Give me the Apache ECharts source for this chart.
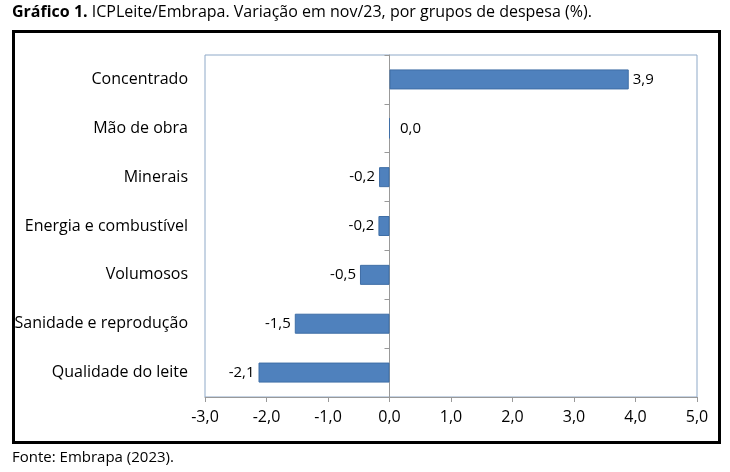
<!DOCTYPE html>
<html>
<head>
<meta charset="utf-8">
<script src="https://cdn.jsdelivr.net/npm/echarts@6/dist/echarts.min.js"></script>
<style>html,body{margin:0;padding:0;background:#fff;}#c{width:730px;height:472px;}</style>
</head>
<body>
<div id="c"></div>
<script>
const categories = ["Concentrado", "Mão de obra", "Minerais", "Energia e combustível", "Volumosos", "Sanidade e reprodução", "Qualidade do leite"];
const values = [3.89, 0.0, -0.17, -0.18, -0.48, -1.54, -2.13];
const xTicks = [-3, -2, -1, 0, 1, 2, 3, 4, 5];
const titleBold = "Gráfico 1.";
const titleRest = " ICPLeite/Embrapa. Variação em nov/23, por grupos de despesa (%).";
const source = "Fonte: Embrapa (2023).";

const FONT = "Open Sans";
const fmt = v => v.toFixed(1).replace('.', ',');

const chart = echarts.init(document.getElementById('c'));
const gridLeft = 205, gridRight = 33, gridTop = 55, gridBottom = 75;
const plotW = 730 - gridLeft - gridRight;
const zeroOffset = -plotW * (0 - xTicks[0]) / (xTicks[xTicks.length - 1] - xTicks[0]);

chart.setOption({
  animation: false,
  textStyle: { fontFamily: FONT },
  graphic: [
    { type: 'rect', shape: { x: 13.5, y: 31.5, width: 706, height: 411 }, style: { fill: 'none', stroke: '#000', lineWidth: 3 } },
    { type: 'text', left: 12, top: 4, style: { text: '{b|' + titleBold + '}{n|' + titleRest + '}', rich: { b: { fontWeight: 'bold', fontSize: 16, fontFamily: FONT, fill: '#000' }, n: { fontSize: 16, fontFamily: FONT, fill: '#000' } } } },
    { type: 'text', left: 12, top: 450, style: { text: source, fontSize: 15, fontFamily: FONT, fill: '#000' } }
  ],
  grid: { left: gridLeft, right: gridRight, top: gridTop, bottom: gridBottom, show: true, borderColor: '#8EA9C8', borderWidth: 1, backgroundColor: '#fff' },
  xAxis: {
    type: 'value', min: xTicks[0], max: xTicks[xTicks.length - 1], interval: 1,
    axisLine: { show: true, onZero: false, lineStyle: { color: '#999', width: 1 } },
    axisTick: { show: true, length: 5, lineStyle: { color: '#999' } },
    splitLine: { show: false },
    axisLabel: { margin: 12, fontSize: 16, color: '#000', fontFamily: FONT, formatter: v => fmt(v) }
  },
  yAxis: [
    {
      type: 'category', data: categories, inverse: true,
      axisLine: { show: false }, axisTick: { show: false },
      axisLabel: { margin: 17, fontSize: 16, color: '#000', fontFamily: FONT }
    },
    {
      type: 'category', data: categories, inverse: true, position: 'left', offset: zeroOffset,
      axisLine: { show: true, onZero: false, lineStyle: { color: '#999', width: 1 } },
      axisTick: { show: true, length: 5, lineStyle: { color: '#999' } },
      axisLabel: { show: false }
    }
  ],
  series: [{
    type: 'bar', yAxisIndex: 0, barWidth: 20,
    itemStyle: { color: '#4F81BD', borderColor: '#3F6EA6', borderWidth: 1 },
    data: values.map(v => ({
      value: v,
      label: { position: v < 0 ? 'left' : 'right', distance: v === 0 ? 10 : 4 }
    })),
    label: { show: true, fontSize: 15, color: '#000', fontFamily: FONT, formatter: p => fmt(p.value) }
  }]
});
</script>
</body>
</html>
